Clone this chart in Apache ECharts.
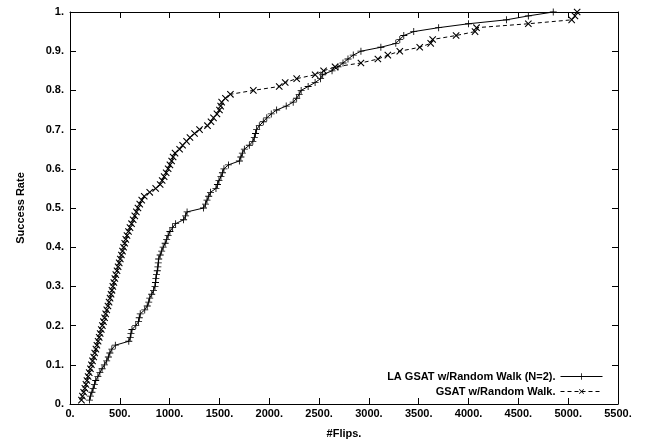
<!DOCTYPE html>
<html>
<head>
<meta charset="utf-8">
<script src="https://cdn.jsdelivr.net/npm/echarts@6/dist/echarts.min.js"></script>
<style>html,body{margin:0;padding:0;background:#fff}#c{width:650px;height:442px}</style>
</head>
<body>
<div id="c"></div>
<script>
// Cumulative success-rate levels (shared by both runs)
const rateLevels = [
 0.01,0.02,0.03,0.04,0.05,0.06,0.07,0.08,0.09,0.10,
 0.11,0.12,0.13,0.14,0.15,0.16,0.17,0.18,0.19,0.20,
 0.21,0.22,0.23,0.24,0.25,0.26,0.27,0.28,0.29,0.30,
 0.31,0.32,0.33,0.34,0.35,0.36,0.37,0.38,0.39,0.40,
 0.41,0.42,0.43,0.44,0.45,0.46,0.47,0.48,0.49,0.50,
 0.51,0.52,0.53,0.54,0.55,0.56,0.57,0.58,0.59,0.60,
 0.61,0.62,0.63,0.64,0.65,0.66,0.67,0.68,0.69,0.70,
 0.71,0.72,0.73,0.74,0.75,0.76,0.77,0.78,0.79,0.80,
 0.81,0.82,0.83,0.84,0.85,0.86,0.87,0.88,0.89,0.90,
 0.91,0.92,0.93,0.94,0.95,0.96,0.97,0.98,0.99,1.00
];
// LA GSAT w/Random Walk (N=2): flips needed for each level
const laFlips = [
 195,205,220,232,245,258,280,300,322,345,
 368,385,400,420,455,590,605,612,622,660,
 688,695,705,750,775,790,800,820,838,853,
 858,862,868,876,882,886,890,905,920,935,
 955,970,985,1003,1030,1060,1140,1160,1175,1340,
 1360,1375,1392,1410,1465,1480,1495,1515,1530,1545,
 1590,1700,1715,1730,1750,1800,1835,1850,1862,1873,
 1900,1940,1975,2020,2074,2170,2240,2275,2300,2320,
 2390,2460,2515,2536,2630,2690,2740,2790,2843,2920,
 3120,3270,3310,3350,3450,3700,4000,4380,4600,4850
];
// GSAT w/Random Walk: flips needed for each level
const gsatFlips = [
 115,125,137,149,160,170,182,193,205,215,
 226,238,248,260,270,282,293,303,314,325,
 336,347,358,369,381,392,402,412,421,430,
 440,450,460,472,483,494,505,516,527,538,
 549,560,572,587,602,618,634,650,666,682,
 700,720,745,800,860,905,925,945,965,985,
 1003,1020,1035,1054,1100,1130,1170,1204,1250,1300,
 1380,1415,1440,1475,1500,1512,1522,1560,1610,1840,
 2100,2160,2275,2460,2545,2660,2920,3090,3190,3310,
 3510,3620,3640,3875,4065,4080,4600,5035,5068,5090
];
const seriesNames = ['LA GSAT w/Random Walk (N=2).', 'GSAT w/Random Walk.'];
const xTicks = {min: 0, max: 5500, step: 500};
const yTicks = {min: 0, max: 1, step: 0.1};

const FONT = "'Liberation Sans', Arial, sans-serif";
const PLUS = 'path://M4.4,0H5.6V4.4H10V5.6H5.6V10H4.4V5.6H0V4.4H4.4Z';
const lbl = () => ({color:'#000', fontFamily: FONT, fontWeight:'bold', fontSize: 11});
const axLine = () => ({show:true, onZero:false, lineStyle:{color:'#000', width:1}});
const tick = () => ({show:true, inside:true, length:6, lineStyle:{color:'#000', width:1}});
const yFmt = v => (Math.abs(v) < 1e-9 ? '0.' : (Math.abs(v-1) < 1e-9 ? '1.' : v.toFixed(1) + '.'));

const chart = echarts.init(document.getElementById('c'), null, {renderer:'canvas'});
chart.setOption({
  animation: false,
  backgroundColor: '#fff',
  grid: {left: 70, right: 32, top: 12, bottom: 38, containLabel: false, outerBoundsMode: 'none'},
  legend: [
    {data:[seriesNames[0]], right: 47, top: 371, align:'right', itemWidth: 42, itemHeight: 8,
     lineStyle:{width: 1}, textStyle: lbl(), padding: 0, selectedMode: false},
    {data:[seriesNames[1]], right: 47, top: 386, align:'right', itemWidth: 42, itemHeight: 8,
     lineStyle:{width: 1}, textStyle: lbl(), padding: 0, selectedMode: false}
  ],
  xAxis: [
    {type:'value', min: xTicks.min, max: xTicks.max, interval: xTicks.step, position:'bottom',
     name: '#Flips.', nameLocation:'middle', nameGap: 24, nameTextStyle: lbl(),
     axisLine: axLine(), axisTick: tick(), splitLine:{show:false},
     axisLabel: Object.assign({margin: 4, formatter: v => v + '.'}, lbl())},
    {type:'value', min: xTicks.min, max: xTicks.max, interval: xTicks.step, position:'top',
     axisLine: axLine(), axisTick: tick(), splitLine:{show:false}, axisLabel:{show:false}}
  ],
  yAxis: [
    {type:'value', min: yTicks.min, max: yTicks.max, interval: yTicks.step, position:'left',
     name: 'Success Rate', nameLocation:'middle', nameGap: 44, nameRotate: 90,
     nameTextStyle: lbl(),
     axisLine: axLine(), axisTick: tick(), splitLine:{show:false},
     axisLabel: Object.assign({margin: 6, formatter: yFmt}, lbl())},
    {type:'value', min: yTicks.min, max: yTicks.max, interval: yTicks.step, position:'right',
     axisLine: axLine(), axisTick: tick(), splitLine:{show:false}, axisLabel:{show:false}}
  ],
  series: [
    {name: seriesNames[0], type:'line', xAxisIndex:0, yAxisIndex:0,
     data: laFlips.map((x,i) => [x, rateLevels[i]]),
     symbol: PLUS, symbolSize: 7, showSymbol: true,
     lineStyle:{color:'#000', width:1, type:'solid'},
     itemStyle:{color:'#000'}, z: 3},
    {name: seriesNames[1], type:'line', xAxisIndex:0, yAxisIndex:0,
     data: gsatFlips.map((x,i) => [x, rateLevels[i]]),
     symbol: PLUS, symbolSize: 9, symbolRotate: 45, showSymbol: true,
     lineStyle:{color:'#000', width:1, type:[4,3]},
     itemStyle:{color:'#000'}, z: 2}
  ]
});
</script>
</body>
</html>
